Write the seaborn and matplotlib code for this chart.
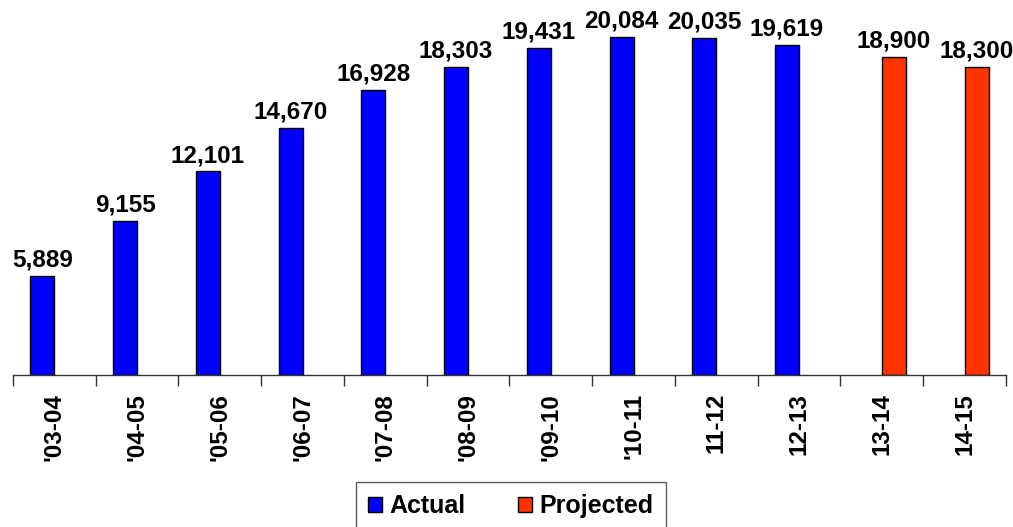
import matplotlib
matplotlib.use("Agg")
import matplotlib.pyplot as plt
import seaborn as sns
import pandas as pd
import numpy as np
from matplotlib.ticker import FixedLocator

years = ["'03-04", "'04-05", "'05-06", "'06-07", "'07-08", "'08-09",
         "'09-10", "'10-11", "11-12", "12-13", "13-14", "14-15"]
actual = [5889, 9155, 12101, 14670, 16928, 18303, 19431, 20084, 20035, 19619]
projected = [18900, 18300]
series = ["Actual", "Projected"]
colors = ["#0000FF", "#FF3300"]

rows = []
for y, v in zip(years[:len(actual)], actual):
    rows.append({"year": y, "series": "Actual", "value": v})
for y, v in zip(years[len(actual):], projected):
    rows.append({"year": y, "series": "Projected", "value": v})
df = pd.DataFrame(rows)

sns.set_style("white")
plt.rcParams["font.family"] = ["Liberation Sans", "DejaVu Sans"]
plt.rcParams["text.color"] = "black"
plt.rcParams["xtick.color"] = "black"
plt.rcParams["xtick.labelcolor"] = "black"

fig = plt.figure(figsize=(10.13, 5.27), dpi=100)
ax = fig.add_axes([0.0128, 0.2884, 0.9802, 0.6926])

sns.barplot(data=df, x="year", y="value", hue="series", order=years,
            hue_order=series, palette=colors, width=0.58, dodge=True,
            saturation=1, edgecolor="black", linewidth=1, ax=ax, legend=True)

ax.set_ylim(0, 21700)
ax.set_xlim(-0.5, len(years) - 0.5)

for cont in ax.containers:
    for bar in cont:
        h = bar.get_height()
        if np.isnan(h) or h == 0:
            continue
        ax.text(bar.get_x() + bar.get_width() / 2, h + 260, f"{int(h):,}",
                ha="center", va="bottom", fontsize=17.5, fontweight="bold",
                color="black", clip_on=False)

for s in ["top", "right", "left"]:
    ax.spines[s].set_visible(False)
ax.spines["bottom"].set_color("#333333")
ax.spines["bottom"].set_linewidth(1)
ax.set_yticks([])
ax.set_xlabel("")
ax.set_ylabel("")
ax.set_xticks(range(len(years)))
ax.set_xticklabels(years, rotation=90, fontsize=17.5, fontweight="bold",
                   color="black")
ax.xaxis.set_minor_locator(FixedLocator(np.arange(-0.5, len(years), 1.0)))
ax.tick_params(axis="x", which="major", length=0, pad=13)
ax.tick_params(axis="x", which="minor", length=8, width=1, color="#333333",
               direction="out", bottom=True)

handles, labels = ax.get_legend_handles_labels()
ax.legend_.remove()
leg = fig.legend(handles, labels, loc="upper center",
                 bbox_to_anchor=(0.5045, 0.0854),
                 ncol=2, frameon=True, fancybox=False, edgecolor="#333333",
                 prop={"size": 18, "weight": "bold"}, handlelength=0.55,
                 handleheight=0.55, columnspacing=2.1, handletextpad=0.3,
                 borderpad=0.5, borderaxespad=0, labelcolor="black")
leg.get_frame().set_linewidth(1)

fig.savefig("out.png", dpi=100)
